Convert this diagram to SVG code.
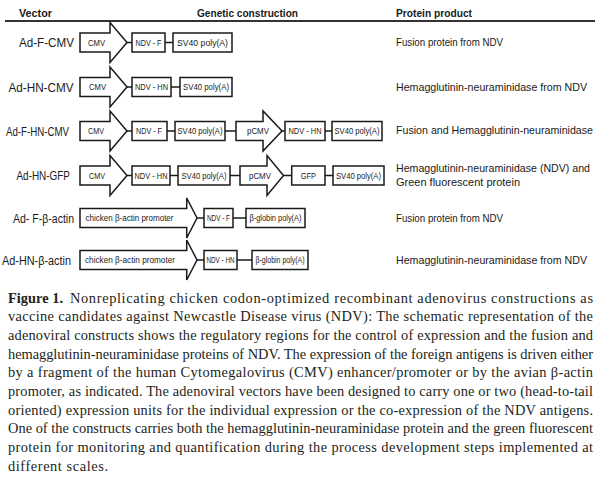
<svg xmlns="http://www.w3.org/2000/svg" width="600" height="478" viewBox="0 0 600 478">
<style>
  .bg{fill:#ffffff}
  .shape{fill:#ffffff;stroke:#1a1a1a;stroke-width:1.5;stroke-linejoin:miter}
  .conn line{stroke:#1a1a1a;stroke-width:1.5}
  .hdr{font-family:"Liberation Sans",Arial,sans-serif;font-weight:bold;font-size:11px;fill:#1a1a1a}
  .lbl{font-family:"Liberation Sans",Arial,sans-serif;font-size:12.5px;fill:#1a1a1a}
  .prod{font-family:"Liberation Sans",Arial,sans-serif;font-size:10.3px;fill:#1a1a1a}
  .bx{font-family:"Liberation Sans",Arial,sans-serif;font-size:8.6px;fill:#1a1a1a;text-anchor:middle}
  .cap{font-family:"Liberation Serif","Times New Roman",serif;font-size:14.4px;fill:#231f20}
  .capb{font-family:"Liberation Serif","Times New Roman",serif;font-size:14.4px;font-weight:bold;fill:#231f20}
</style>
<rect class="bg" x="0" y="0" width="600" height="478"/>

<g id="header">
  <text class="hdr" x="19" y="17" textLength="33" lengthAdjust="spacingAndGlyphs">Vector</text>
  <text class="hdr" x="197" y="17" textLength="101" lengthAdjust="spacingAndGlyphs">Genetic construction</text>
  <text class="hdr" x="396" y="17" textLength="76" lengthAdjust="spacingAndGlyphs">Protein product</text>
  <line x1="5" y1="21" x2="595" y2="21" stroke="#333" stroke-width="1.8"/>
</g>

<g id="vector-labels">
  <text class="lbl" x="19" y="47" textLength="55" lengthAdjust="spacingAndGlyphs">Ad-F-CMV</text>
  <text class="lbl" x="8.5" y="91.5" textLength="65" lengthAdjust="spacingAndGlyphs">Ad-HN-CMV</text>
  <text class="lbl" x="6" y="135.5" textLength="63" lengthAdjust="spacingAndGlyphs">Ad-F-HN-CMV</text>
  <text class="lbl" x="16.5" y="180" textLength="53.5" lengthAdjust="spacingAndGlyphs">Ad-HN-GFP</text>
  <text class="lbl" x="13" y="222.5" textLength="61" lengthAdjust="spacingAndGlyphs">Ad- F-β-actin</text>
  <text class="lbl" x="2" y="264.5" textLength="69" lengthAdjust="spacingAndGlyphs">Ad-HN-β-actin</text>
</g>

<g id="products">
  <text class="prod" x="396" y="46.3" textLength="107" lengthAdjust="spacingAndGlyphs">Fusion protein from NDV</text>
  <text class="prod" x="396" y="90.8" textLength="191" lengthAdjust="spacingAndGlyphs">Hemagglutinin-neuraminidase from NDV</text>
  <text class="prod" x="396" y="134.3" textLength="197" lengthAdjust="spacingAndGlyphs">Fusion and Hemagglutinin-neuraminidase</text>
  <text class="prod" x="396" y="171.8" textLength="194" lengthAdjust="spacingAndGlyphs">Hemagglutinin-neuraminidase (NDV) and</text>
  <text class="prod" x="396" y="186.3" textLength="124" lengthAdjust="spacingAndGlyphs">Green fluorescent protein</text>
  <text class="prod" x="396" y="221.8" textLength="107" lengthAdjust="spacingAndGlyphs">Fusion protein from NDV</text>
  <text class="prod" x="396" y="263.8" textLength="191" lengthAdjust="spacingAndGlyphs">Hemagglutinin-neuraminidase from NDV</text>
</g>

<g id="connectors" class="conn">
  <line x1="127" y1="42.5" x2="132" y2="42.5"/>
  <line x1="165" y1="42.5" x2="173" y2="42.5"/>
  <line x1="127" y1="87" x2="132" y2="87"/>
  <line x1="171" y1="87" x2="180" y2="87"/>
  <line x1="127" y1="131" x2="132" y2="131"/>
  <line x1="167" y1="131" x2="175" y2="131"/>
  <line x1="225" y1="131" x2="236" y2="131"/>
  <line x1="282" y1="131" x2="285" y2="131"/>
  <line x1="325" y1="131" x2="332" y2="131"/>
  <line x1="127" y1="175.5" x2="132" y2="175.5"/>
  <line x1="170" y1="175.5" x2="178" y2="175.5"/>
  <line x1="230" y1="175.5" x2="240" y2="175.5"/>
  <line x1="283.5" y1="175.5" x2="291.7" y2="175.5"/>
  <line x1="325" y1="175.5" x2="333" y2="175.5"/>
  <line x1="197" y1="218" x2="204" y2="218"/>
  <line x1="233" y1="218" x2="246" y2="218"/>
  <line x1="197" y1="260" x2="204" y2="260"/>
  <line x1="237" y1="260" x2="252" y2="260"/>
</g>

<!-- Row 1 -->
<g id="r1-cmv">
  <path class="shape" d="M80,33 H110 V22.5 L127,42.5 L110,62.5 V52 H80 Z"/>
  <text class="bx" x="96.5" y="45.6" textLength="17" lengthAdjust="spacingAndGlyphs">CMV</text>
</g>
<g id="r1-ndvf">
  <rect class="shape" x="132" y="33" width="33" height="19"/>
  <text class="bx" x="148.5" y="45.6" textLength="26" lengthAdjust="spacingAndGlyphs">NDV - F</text>
</g>
<g id="r1-sv40">
  <rect class="shape" x="173" y="33" width="59" height="19"/>
  <text class="bx" x="202.5" y="45.6" textLength="51" lengthAdjust="spacingAndGlyphs">SV40 poly(A)</text>
</g>

<!-- Row 2 -->
<g id="r2-cmv">
  <path class="shape" d="M80,77.5 H110 V67 L127,87 L110,107 V96.5 H80 Z"/>
  <text class="bx" x="97.5" y="90.1" textLength="17" lengthAdjust="spacingAndGlyphs">CMV</text>
</g>
<g id="r2-ndvhn">
  <rect class="shape" x="132" y="77.5" width="39" height="19"/>
  <text class="bx" x="151.5" y="90.1" textLength="33" lengthAdjust="spacingAndGlyphs">NDV - HN</text>
</g>
<g id="r2-sv40">
  <rect class="shape" x="180" y="77.5" width="52" height="19"/>
  <text class="bx" x="206" y="90.1" textLength="46" lengthAdjust="spacingAndGlyphs">SV40 poly(A)</text>
</g>

<!-- Row 3 -->
<g id="r3-cmv">
  <path class="shape" d="M80,121.5 H110 V111 L127,131 L110,151 V140.5 H80 Z"/>
  <text class="bx" x="96" y="134.1" textLength="16" lengthAdjust="spacingAndGlyphs">CMV</text>
</g>
<g id="r3-ndvf">
  <rect class="shape" x="132" y="121.5" width="35" height="19"/>
  <text class="bx" x="149" y="134.1" textLength="26" lengthAdjust="spacingAndGlyphs">NDV - F</text>
</g>
<g id="r3-sv40a">
  <rect class="shape" x="175" y="121.5" width="50" height="19"/>
  <text class="bx" x="200" y="134.1" textLength="45" lengthAdjust="spacingAndGlyphs">SV40 poly(A)</text>
</g>
<g id="r3-pcmv">
  <path class="shape" d="M236,121.5 H263 V111 L282,131 L263,151 V140.5 H236 Z"/>
  <text class="bx" x="258" y="134.1" textLength="22" lengthAdjust="spacingAndGlyphs">pCMV</text>
</g>
<g id="r3-ndvhn">
  <rect class="shape" x="285" y="121.5" width="40" height="19"/>
  <text class="bx" x="305" y="134.1" textLength="33" lengthAdjust="spacingAndGlyphs">NDV - HN</text>
</g>
<g id="r3-sv40b">
  <rect class="shape" x="332" y="121.5" width="50" height="19"/>
  <text class="bx" x="357" y="134.1" textLength="45" lengthAdjust="spacingAndGlyphs">SV40 poly(A)</text>
</g>

<!-- Row 4 -->
<g id="r4-cmv">
  <path class="shape" d="M80,166 H110 V155.5 L127,175.5 L110,195.5 V185 H80 Z"/>
  <text class="bx" x="97" y="178.6" textLength="16" lengthAdjust="spacingAndGlyphs">CMV</text>
</g>
<g id="r4-ndvhn">
  <rect class="shape" x="132" y="166" width="38" height="19"/>
  <text class="bx" x="151" y="178.6" textLength="33" lengthAdjust="spacingAndGlyphs">NDV - HN</text>
</g>
<g id="r4-sv40a">
  <rect class="shape" x="178" y="166" width="52" height="19"/>
  <text class="bx" x="204" y="178.6" textLength="45" lengthAdjust="spacingAndGlyphs">SV40 poly(A)</text>
</g>
<g id="r4-pcmv">
  <path class="shape" d="M240,166 H267 V155.5 L283.5,175.5 L267,195.5 V185 H240 Z"/>
  <text class="bx" x="260" y="178.6" textLength="22" lengthAdjust="spacingAndGlyphs">pCMV</text>
</g>
<g id="r4-gfp">
  <rect class="shape" x="291.7" y="166" width="33.3" height="19"/>
  <text class="bx" x="308.3" y="178.6" textLength="15" lengthAdjust="spacingAndGlyphs">GFP</text>
</g>
<g id="r4-sv40b">
  <rect class="shape" x="333" y="166" width="51" height="19"/>
  <text class="bx" x="358.5" y="178.6" textLength="45" lengthAdjust="spacingAndGlyphs">SV40 poly(A)</text>
</g>

<!-- Row 5 -->
<g id="r5-bactin">
  <path class="shape" d="M80,208.5 H186.7 V198 L197,218 L186.7,238 V227.5 H80 Z"/>
  <text class="bx" x="129.5" y="221.1" textLength="88" lengthAdjust="spacingAndGlyphs">chicken β-actin promoter</text>
</g>
<g id="r5-ndvf">
  <rect class="shape" x="204" y="208.5" width="29" height="19"/>
  <text class="bx" x="218.5" y="221.1" textLength="23" lengthAdjust="spacingAndGlyphs">NDV - F</text>
</g>
<g id="r5-bglobin">
  <rect class="shape" x="246" y="208.5" width="59" height="19"/>
  <text class="bx" x="275.5" y="221.1" textLength="52" lengthAdjust="spacingAndGlyphs">β-globin poly(A)</text>
</g>

<!-- Row 6 -->
<g id="r6-bactin">
  <path class="shape" d="M80,250.5 H186.7 V240 L197,260 L186.7,280 V269.5 H80 Z"/>
  <text class="bx" x="130" y="263.1" textLength="90" lengthAdjust="spacingAndGlyphs">chicken β-actin promoter</text>
</g>
<g id="r6-ndvhn">
  <rect class="shape" x="204" y="250.5" width="33" height="19"/>
  <text class="bx" x="220.5" y="263.1" textLength="28" lengthAdjust="spacingAndGlyphs">NDV - HN</text>
</g>
<g id="r6-bglobin">
  <rect class="shape" x="252" y="250.5" width="56" height="19"/>
  <text class="bx" x="280" y="263.1" textLength="49" lengthAdjust="spacingAndGlyphs">β-globin poly(A)</text>
</g>

<g id="caption">
  <text class="capb" x="8" y="302.5" textLength="55">Figure 1.</text>
  <text class="cap" x="70" y="302.5" textLength="523">Nonreplicating chicken codon-optimized recombinant adenovirus constructions as</text>
  <text class="cap" x="8" y="321.2" textLength="585">vaccine candidates against Newcastle Disease virus (NDV): The schematic representation of the</text>
  <text class="cap" x="8" y="339.9" textLength="585">adenoviral constructs shows the regulatory regions for the control of expression and the fusion and</text>
  <text class="cap" x="8" y="358.6" textLength="585">hemagglutinin-neuraminidase proteins of NDV. The expression of the foreign antigens is driven either</text>
  <text class="cap" x="8" y="377.3" textLength="585">by a fragment of the human Cytomegalovirus (CMV) enhancer/promoter or by the avian β-actin</text>
  <text class="cap" x="8" y="396" textLength="585">promoter, as indicated. The adenoviral vectors have been designed to carry one or two (head-to-tail</text>
  <text class="cap" x="8" y="414.7" textLength="585">oriented) expression units for the individual expression or the co-expression of the NDV antigens.</text>
  <text class="cap" x="8" y="433.4" textLength="585">One of the constructs carries both the hemagglutinin-neuraminidase protein and the green fluorescent</text>
  <text class="cap" x="8" y="452.1" textLength="585">protein for monitoring and quantification during the process development steps implemented at</text>
  <text class="cap" x="8" y="470.8" textLength="100">different scales.</text>
</g>
</svg>
